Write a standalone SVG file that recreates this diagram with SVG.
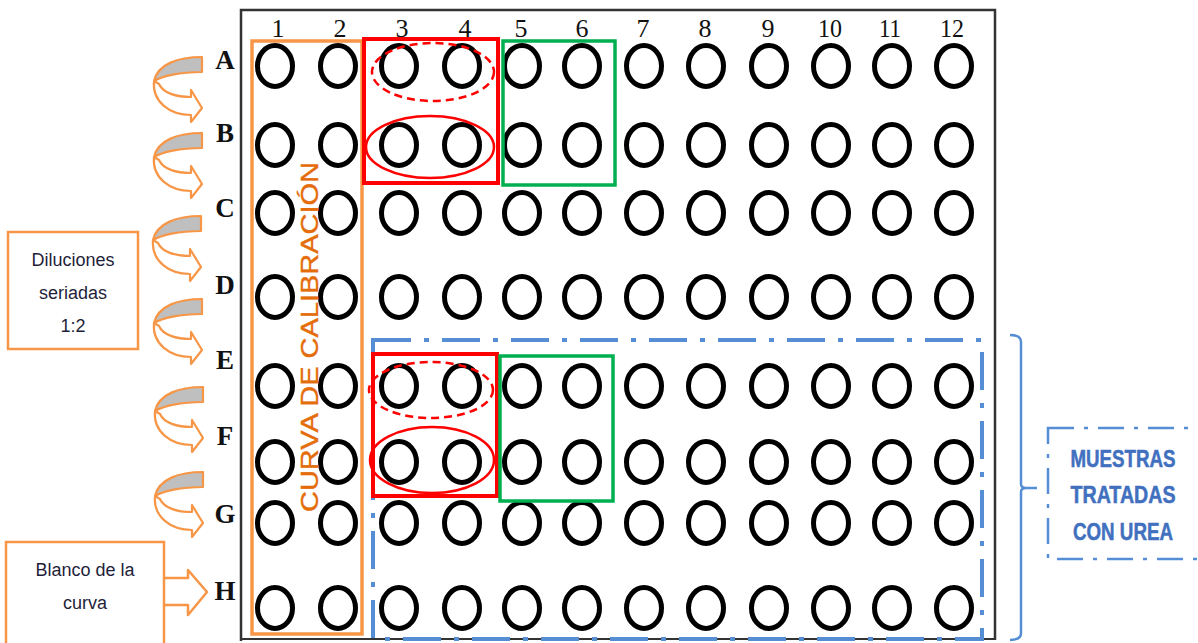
<svg xmlns="http://www.w3.org/2000/svg" width="1198" height="643" viewBox="0 0 1198 643">
<style>
.well{fill:none;stroke:#000;stroke-width:5}
.col{font-family:"Liberation Serif",serif;font-size:26px;fill:#111;text-anchor:middle}
.row{font-family:"Liberation Serif",serif;font-size:27px;font-weight:bold;fill:#111;text-anchor:middle}
.obox{fill:#fff;stroke:#F79646;stroke-width:2.5}
.otxt{font-family:"Liberation Sans",sans-serif;font-size:18px;fill:#1F1F3A;text-anchor:middle}
.red{fill:none;stroke:#FF0000;stroke-width:4}
.redell{fill:none;stroke:#FF0000;stroke-width:2.5}
.dash{stroke-dasharray:8 5}
.green{fill:none;stroke:#00B050;stroke-width:3.5}
.blue{fill:none;stroke:#558ED5;stroke-width:4;stroke-dasharray:38 13 5 13}
.bluethin{fill:none;stroke:#558ED5;stroke-width:2.5;stroke-dasharray:26 10 4 10}
.btxt{font-family:"Liberation Sans",sans-serif;font-size:23px;font-weight:bold;fill:#4170BF;stroke:#4170BF;stroke-width:0.5;text-anchor:middle}
.carrow-g{fill:#BFBFBF;stroke:#F79646;stroke-width:2.2;stroke-linejoin:round}
.carrow-w{fill:#fff;stroke:#F79646;stroke-width:2.2;stroke-linejoin:round}
</style>
<defs>
<g id="curved">
<path class="carrow-w" d="M-48,24 C-50,45 -32,58 -11,58 L-11,65 L0,51 L-11,33 L-11,40 C-26,40 -39,36 -43,27 Z"/>
<path class="carrow-g" d="M0,0 C-24,0 -44,7 -48,24 C-40,19 -22,15 0,15 Z"/>
</g>
</defs>
<rect x="0" y="0" width="1198" height="643" fill="#fff"/>
<g id="plate">
<path d="M241,641 L241,10 L995,10 L995,640" fill="none" stroke="#333" stroke-width="2.5"/>
<line x1="241" y1="639" x2="995" y2="639" stroke="#333" stroke-width="2"/>
</g>
<g id="column-labels">
<text class="col" x="278" y="37">1</text>
<text class="col" x="340" y="37">2</text>
<text class="col" x="402" y="37">3</text>
<text class="col" x="465" y="37">4</text>
<text class="col" x="521" y="37">5</text>
<text class="col" x="582" y="37">6</text>
<text class="col" x="643" y="37">7</text>
<text class="col" x="705" y="37">8</text>
<text class="col" x="768" y="37">9</text>
<text class="col" x="830" y="37" textLength="24" lengthAdjust="spacingAndGlyphs">10</text>
<text class="col" x="890" y="37" textLength="22" lengthAdjust="spacingAndGlyphs">11</text>
<text class="col" x="952" y="37" textLength="24" lengthAdjust="spacingAndGlyphs">12</text>
</g>
<g id="row-labels">
<text class="row" x="225" y="69">A</text>
<text class="row" x="225" y="142">B</text>
<text class="row" x="225" y="217">C</text>
<text class="row" x="225" y="294">D</text>
<text class="row" x="225" y="369">E</text>
<text class="row" x="225" y="445">F</text>
<text class="row" x="225" y="523">G</text>
<text class="row" x="225" y="600">H</text>
</g>
<g id="wells">
<g id="row-A"><ellipse class="well" cx="275" cy="66" rx="17.5" ry="20.5"/><ellipse class="well" cx="338" cy="66" rx="17.5" ry="20.5"/><ellipse class="well" cx="399" cy="66" rx="17.5" ry="20.5"/><ellipse class="well" cx="462" cy="66" rx="17.5" ry="20.5"/><ellipse class="well" cx="522" cy="66" rx="17.5" ry="20.5"/><ellipse class="well" cx="582" cy="66" rx="17.5" ry="20.5"/><ellipse class="well" cx="644" cy="66" rx="17.5" ry="20.5"/><ellipse class="well" cx="706" cy="66" rx="17.5" ry="20.5"/><ellipse class="well" cx="769" cy="66" rx="17.5" ry="20.5"/><ellipse class="well" cx="831" cy="66" rx="17.5" ry="20.5"/><ellipse class="well" cx="892" cy="66" rx="17.5" ry="20.5"/><ellipse class="well" cx="954" cy="66" rx="17.5" ry="20.5"/></g>
<g id="row-B"><ellipse class="well" cx="275" cy="145" rx="17.5" ry="20.5"/><ellipse class="well" cx="338" cy="145" rx="17.5" ry="20.5"/><ellipse class="well" cx="399" cy="145" rx="17.5" ry="20.5"/><ellipse class="well" cx="462" cy="145" rx="17.5" ry="20.5"/><ellipse class="well" cx="522" cy="145" rx="17.5" ry="20.5"/><ellipse class="well" cx="582" cy="145" rx="17.5" ry="20.5"/><ellipse class="well" cx="644" cy="145" rx="17.5" ry="20.5"/><ellipse class="well" cx="706" cy="145" rx="17.5" ry="20.5"/><ellipse class="well" cx="769" cy="145" rx="17.5" ry="20.5"/><ellipse class="well" cx="831" cy="145" rx="17.5" ry="20.5"/><ellipse class="well" cx="892" cy="145" rx="17.5" ry="20.5"/><ellipse class="well" cx="954" cy="145" rx="17.5" ry="20.5"/></g>
<g id="row-C"><ellipse class="well" cx="275" cy="213" rx="17.5" ry="20.5"/><ellipse class="well" cx="338" cy="213" rx="17.5" ry="20.5"/><ellipse class="well" cx="399" cy="213" rx="17.5" ry="20.5"/><ellipse class="well" cx="462" cy="213" rx="17.5" ry="20.5"/><ellipse class="well" cx="522" cy="213" rx="17.5" ry="20.5"/><ellipse class="well" cx="582" cy="213" rx="17.5" ry="20.5"/><ellipse class="well" cx="644" cy="213" rx="17.5" ry="20.5"/><ellipse class="well" cx="706" cy="213" rx="17.5" ry="20.5"/><ellipse class="well" cx="769" cy="213" rx="17.5" ry="20.5"/><ellipse class="well" cx="831" cy="213" rx="17.5" ry="20.5"/><ellipse class="well" cx="892" cy="213" rx="17.5" ry="20.5"/><ellipse class="well" cx="954" cy="213" rx="17.5" ry="20.5"/></g>
<g id="row-D"><ellipse class="well" cx="275" cy="297" rx="17.5" ry="20.5"/><ellipse class="well" cx="338" cy="297" rx="17.5" ry="20.5"/><ellipse class="well" cx="399" cy="297" rx="17.5" ry="20.5"/><ellipse class="well" cx="462" cy="297" rx="17.5" ry="20.5"/><ellipse class="well" cx="522" cy="297" rx="17.5" ry="20.5"/><ellipse class="well" cx="582" cy="297" rx="17.5" ry="20.5"/><ellipse class="well" cx="644" cy="297" rx="17.5" ry="20.5"/><ellipse class="well" cx="706" cy="297" rx="17.5" ry="20.5"/><ellipse class="well" cx="769" cy="297" rx="17.5" ry="20.5"/><ellipse class="well" cx="831" cy="297" rx="17.5" ry="20.5"/><ellipse class="well" cx="892" cy="297" rx="17.5" ry="20.5"/><ellipse class="well" cx="954" cy="297" rx="17.5" ry="20.5"/></g>
<g id="row-E"><ellipse class="well" cx="275" cy="386" rx="17.5" ry="20.5"/><ellipse class="well" cx="338" cy="386" rx="17.5" ry="20.5"/><ellipse class="well" cx="399" cy="386" rx="17.5" ry="20.5"/><ellipse class="well" cx="462" cy="386" rx="17.5" ry="20.5"/><ellipse class="well" cx="522" cy="386" rx="17.5" ry="20.5"/><ellipse class="well" cx="582" cy="386" rx="17.5" ry="20.5"/><ellipse class="well" cx="644" cy="386" rx="17.5" ry="20.5"/><ellipse class="well" cx="706" cy="386" rx="17.5" ry="20.5"/><ellipse class="well" cx="769" cy="386" rx="17.5" ry="20.5"/><ellipse class="well" cx="831" cy="386" rx="17.5" ry="20.5"/><ellipse class="well" cx="892" cy="386" rx="17.5" ry="20.5"/><ellipse class="well" cx="954" cy="386" rx="17.5" ry="20.5"/></g>
<g id="row-F"><ellipse class="well" cx="275" cy="462" rx="17.5" ry="20.5"/><ellipse class="well" cx="338" cy="462" rx="17.5" ry="20.5"/><ellipse class="well" cx="399" cy="462" rx="17.5" ry="20.5"/><ellipse class="well" cx="462" cy="462" rx="17.5" ry="20.5"/><ellipse class="well" cx="522" cy="462" rx="17.5" ry="20.5"/><ellipse class="well" cx="582" cy="462" rx="17.5" ry="20.5"/><ellipse class="well" cx="644" cy="462" rx="17.5" ry="20.5"/><ellipse class="well" cx="706" cy="462" rx="17.5" ry="20.5"/><ellipse class="well" cx="769" cy="462" rx="17.5" ry="20.5"/><ellipse class="well" cx="831" cy="462" rx="17.5" ry="20.5"/><ellipse class="well" cx="892" cy="462" rx="17.5" ry="20.5"/><ellipse class="well" cx="954" cy="462" rx="17.5" ry="20.5"/></g>
<g id="row-G"><ellipse class="well" cx="275" cy="523" rx="17.5" ry="20.5"/><ellipse class="well" cx="338" cy="523" rx="17.5" ry="20.5"/><ellipse class="well" cx="399" cy="523" rx="17.5" ry="20.5"/><ellipse class="well" cx="462" cy="523" rx="17.5" ry="20.5"/><ellipse class="well" cx="522" cy="523" rx="17.5" ry="20.5"/><ellipse class="well" cx="582" cy="523" rx="17.5" ry="20.5"/><ellipse class="well" cx="644" cy="523" rx="17.5" ry="20.5"/><ellipse class="well" cx="706" cy="523" rx="17.5" ry="20.5"/><ellipse class="well" cx="769" cy="523" rx="17.5" ry="20.5"/><ellipse class="well" cx="831" cy="523" rx="17.5" ry="20.5"/><ellipse class="well" cx="892" cy="523" rx="17.5" ry="20.5"/><ellipse class="well" cx="954" cy="523" rx="17.5" ry="20.5"/></g>
<g id="row-H"><ellipse class="well" cx="275" cy="608" rx="17.5" ry="20.5"/><ellipse class="well" cx="338" cy="608" rx="17.5" ry="20.5"/><ellipse class="well" cx="399" cy="608" rx="17.5" ry="20.5"/><ellipse class="well" cx="462" cy="608" rx="17.5" ry="20.5"/><ellipse class="well" cx="522" cy="608" rx="17.5" ry="20.5"/><ellipse class="well" cx="582" cy="608" rx="17.5" ry="20.5"/><ellipse class="well" cx="644" cy="608" rx="17.5" ry="20.5"/><ellipse class="well" cx="706" cy="608" rx="17.5" ry="20.5"/><ellipse class="well" cx="769" cy="608" rx="17.5" ry="20.5"/><ellipse class="well" cx="831" cy="608" rx="17.5" ry="20.5"/><ellipse class="well" cx="892" cy="608" rx="17.5" ry="20.5"/><ellipse class="well" cx="954" cy="608" rx="17.5" ry="20.5"/></g>
</g>
<g id="calibration-curve">
<rect x="252" y="41" width="110" height="593" fill="none" stroke="#F79646" stroke-width="3.5"/>
<text transform="translate(318,337) rotate(-90)" x="0" y="0" font-family="Liberation Sans, sans-serif" font-size="24" fill="#E46C0A" stroke="#E46C0A" stroke-width="0.4" text-anchor="middle" textLength="350" lengthAdjust="spacingAndGlyphs">CURVA DE CALIBRACIÓN</text>
</g>
<g id="red-group-top">
<rect class="red" x="364" y="39" width="134" height="144"/>
<ellipse class="redell dash" cx="433" cy="72" rx="61" ry="29"/>
<ellipse class="redell" cx="430" cy="147" rx="64" ry="31"/>
</g>
<g id="green-group-top">
<rect class="green" x="503" y="41" width="112" height="144"/>
</g>
<g id="treated-samples">
<rect class="blue" x="373" y="340" width="609" height="299"/>
</g>
<g id="red-group-bottom">
<rect class="red" x="373" y="354" width="124" height="142"/>
<ellipse class="redell dash" cx="431" cy="390" rx="62" ry="28"/>
<ellipse class="redell" cx="432" cy="460" rx="62" ry="33"/>
</g>
<g id="green-group-bottom">
<rect class="green" x="500" y="356" width="113" height="145"/>
</g>
<g id="connectors">
<use href="#curved" transform="translate(202,57)"/>
<use href="#curved" transform="translate(202,133)"/>
<use href="#curved" transform="translate(201,216)"/>
<use href="#curved" transform="translate(202,299)"/>
<use href="#curved" transform="translate(203,387)"/>
<use href="#curved" transform="translate(203,472)"/>
<path d="M164,578 L188,578 L188,570 L207,592 L188,615 L188,605 L164,605" fill="#fff" stroke="#F79646" stroke-width="2.5" stroke-linejoin="round"/>
<path d="M1010,335 Q1021,335 1021,342 L1021,484 Q1021,488 1026,488 L1037,488 M1026,488 Q1021,488 1021,492 L1021,633 Q1021,640 1010,640" fill="none" stroke="#558ED5" stroke-width="2.5"/>
</g>
<g id="dilutions-box">
<rect class="obox" x="8" y="232" width="130" height="117"/>
<text class="otxt" x="73" y="266">Diluciones</text>
<text class="otxt" x="73" y="299">seriadas</text>
<text class="otxt" x="73" y="332">1:2</text>
</g>
<g id="blank-box">
<rect class="obox" x="6" y="542" width="158" height="110"/>
<text class="otxt" x="85" y="576">Blanco de la</text>
<text class="otxt" x="85" y="609">curva</text>
</g>
<g id="samples-label">
<rect class="bluethin" x="1048" y="428" width="152" height="131"/>
<text class="btxt" x="1123" y="467" textLength="105" lengthAdjust="spacingAndGlyphs">MUESTRAS</text>
<text class="btxt" x="1123" y="503" textLength="105" lengthAdjust="spacingAndGlyphs">TRATADAS</text>
<text class="btxt" x="1123" y="540" textLength="100" lengthAdjust="spacingAndGlyphs">CON UREA</text>
</g>
</svg>
